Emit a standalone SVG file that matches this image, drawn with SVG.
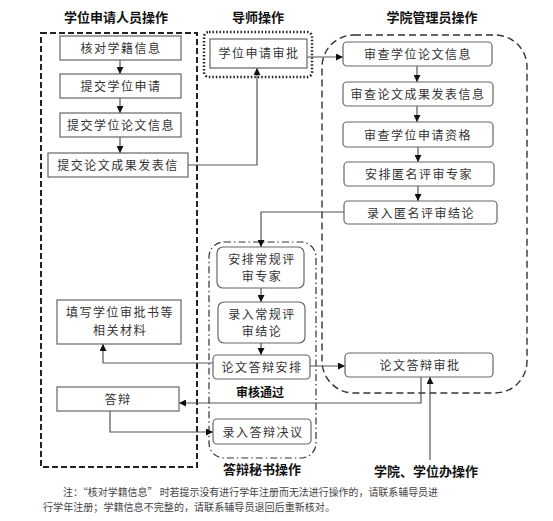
<svg xmlns="http://www.w3.org/2000/svg" width="553" height="521" viewBox="0 0 553 521">
<defs>
<style>
.t{font-family:"Noto Sans CJK SC","Liberation Sans",sans-serif;font-size:12px;fill:#333;letter-spacing:1.5px;text-anchor:middle}
.h{font-family:"Noto Sans CJK SC","Liberation Sans",sans-serif;font-size:13px;font-weight:bold;fill:#111;text-anchor:middle}
.n{font-family:"Noto Sans CJK SC","Liberation Sans",sans-serif;font-size:10px;fill:#444}
.b{fill:#fff;stroke:#666;stroke-width:1.2}
.c{fill:none;stroke:#555;stroke-width:1.2}
</style>
<marker id="a" viewBox="0 0 10 10" refX="10" refY="5" markerWidth="7" markerHeight="7" markerUnits="userSpaceOnUse" orient="auto"><path d="M0,0L10,5L0,10z" fill="#111"/></marker>
</defs>
<rect width="553" height="521" fill="#fff"/>
<g id="lanes">
<rect x="41" y="33" width="156" height="434" fill="none" stroke="#222" stroke-width="2" stroke-dasharray="6,3"/>
<rect x="204" y="32" width="108" height="45" rx="5" fill="none" stroke="#222" stroke-width="2.5" stroke-dasharray="1.5,2"/>
<rect x="322" y="35" width="205" height="358" rx="32" fill="none" stroke="#333" stroke-width="1.4" stroke-dasharray="7,4"/>
<rect x="209" y="242" width="107" height="216" rx="15" fill="none" stroke="#333" stroke-width="1.2" stroke-dasharray="7,3,1.5,3"/>
<text class="h" x="116" y="22">学位申请人员操作</text>
<text class="h" x="258" y="22">导师操作</text>
<text class="h" x="432" y="22">学院管理员操作</text>
<text class="h" x="262" y="474">答辩秘书操作</text>
<text class="h" x="426" y="476">学院、学位办操作</text>
<text class="h" x="260" y="397" style="font-size:12px">审核通过</text>
</g>
<g id="connectors">
<path class="c" d="M120,60V74" marker-end="url(#a)"/>
<path class="c" d="M120,98V113" marker-end="url(#a)"/>
<path class="c" d="M120,137V153" marker-end="url(#a)"/>
<path class="c" d="M188,165H257V68" marker-end="url(#a)"/>
<path class="c" d="M307,57H343" marker-end="url(#a)"/>
<path class="c" d="M417,66V82" marker-end="url(#a)"/>
<path class="c" d="M417,106V122" marker-end="url(#a)"/>
<path class="c" d="M418,147V162" marker-end="url(#a)"/>
<path class="c" d="M418,186V201" marker-end="url(#a)"/>
<path class="c" d="M344,212H261V247" marker-end="url(#a)"/>
<path class="c" d="M261,288V302" marker-end="url(#a)"/>
<path class="c" d="M261,343V355" marker-end="url(#a)"/>
<path class="c" d="M213,363H103V344" marker-end="url(#a)"/>
<path class="c" d="M310,366H345" marker-end="url(#a)"/>
<path class="c" d="M421,377V403H179" marker-end="url(#a)"/>
<path class="c" d="M110,411V432H213" marker-end="url(#a)"/>
<path class="c" d="M430,460V377" marker-end="url(#a)"/>
</g>
<g id="n1"><rect class="b" x="60" y="36" width="121" height="24"/><text class="t" x="121" y="53">核对学籍信息</text></g>
<g id="n2"><rect class="b" x="60" y="74" width="121" height="24"/><text class="t" x="121" y="91">提交学位申请</text></g>
<g id="n3"><rect class="b" x="60" y="113" width="121" height="24"/><text class="t" x="121" y="130">提交学位论文信息</text></g>
<g id="n4"><rect class="b" x="48" y="153" width="140" height="24"/><text class="t" x="118" y="170">提交论文成果发表信</text></g>
<g id="n5"><rect class="b" x="210" y="39" width="97" height="29"/><text class="t" x="259" y="58">学位申请审批</text></g>
<g id="n6"><rect class="b" x="343" y="42" width="149" height="24" rx="4"/><text class="t" x="418" y="59">审查学位论文信息</text></g>
<g id="n7"><rect class="b" x="343" y="82" width="150" height="24" rx="4"/><text class="t" x="418" y="99">审查论文成果发表信息</text></g>
<g id="n8"><rect class="b" x="343" y="122" width="150" height="25" rx="4"/><text class="t" x="418" y="140">审查学位申请资格</text></g>
<g id="n9"><rect class="b" x="344" y="162" width="150" height="24" rx="4"/><text class="t" x="419" y="179">安排匿名评审专家</text></g>
<g id="n10"><rect class="b" x="344" y="201" width="153" height="23" rx="4"/><text class="t" x="421" y="218">录入匿名评审结论</text></g>
<g id="n11"><rect class="b" x="217" y="247" width="87" height="41" rx="6"/><text class="t" x="262" y="264">安排常规评</text><text class="t" x="262" y="281">审专家</text></g>
<g id="n12"><rect class="b" x="218" y="302" width="87" height="41" rx="6"/><text class="t" x="262" y="319">录入常规评</text><text class="t" x="262" y="336">审结论</text></g>
<g id="n13"><rect class="b" x="213" y="355" width="97" height="24" rx="4"/><text class="t" x="262" y="372">论文答辩安排</text></g>
<g id="n14"><rect class="b" x="213" y="419" width="98" height="25" rx="4"/><text class="t" x="263" y="437">录入答辩决议</text></g>
<g id="n15"><rect class="b" x="57" y="300" width="124" height="44"/><text class="t" x="120" y="317">填写学位审批书等</text><text class="t" x="120" y="335">相关材料</text></g>
<g id="n16"><rect class="b" x="57" y="387" width="122" height="24"/><text class="t" x="118" y="404">答辩</text></g>
<g id="n17"><rect class="b" x="345" y="353" width="148" height="24" rx="4"/><text class="t" x="420" y="370">论文答辩审批</text></g>
<g id="note">
<text class="n" x="63" y="496" textLength="375" lengthAdjust="spacingAndGlyphs">注：“核对学籍信息” 时若提示没有进行学年注册而无法进行操作的，请联系辅导员进</text>
<text class="n" x="43" y="511" textLength="292" lengthAdjust="spacingAndGlyphs">行学年注册；学籍信息不完整的，请联系辅导员退回后重新核对。</text>
</g>
</svg>
